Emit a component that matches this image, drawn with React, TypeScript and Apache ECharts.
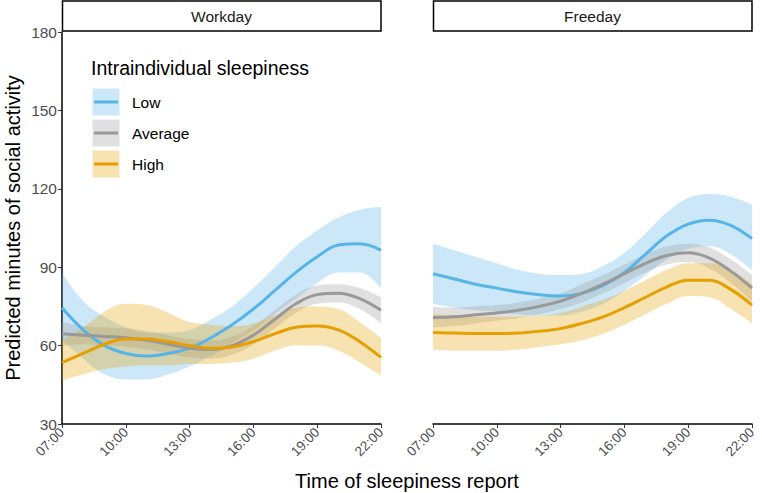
import React, { useEffect, useRef } from "react";
import * as echarts from "echarts";

const hours = ["07:00","08:00","09:00","10:00","11:00","12:00","13:00","14:00","15:00","16:00","17:00","18:00","19:00","20:00","21:00","22:00"];
const panels = ["Workday", "Freeday"];
const levels = ["Low", "Average", "High"];
const lineColors = ["#56B4E9", "#999999", "#E69F00"];

// Workday
const workLowMean = [74.5, 66, 60, 57, 56, 57, 59, 63, 68, 74, 81, 88, 94, 98.5, 99, 96.5];
const workLowLower = [62, 55, 49, 47, 47, 49, 52, 56, 61, 66, 72, 78, 84, 88, 88, 82];
const workLowUpper = [88, 77, 71, 67, 65, 65, 66, 70, 75, 82, 90, 98, 104, 109, 112, 113];
const workAvgMean = [64.5, 64, 63.5, 63, 62, 60.5, 59, 58.5, 60, 64, 70, 76, 79.5, 80, 78, 73.5];
const workAvgLower = [60, 60.5, 60, 59.5, 58.5, 57, 55.5, 55, 56.5, 60.5, 66.5, 72.5, 76, 76.5, 74, 68.5];
const workAvgUpper = [69, 67.5, 67, 66.5, 65.5, 64, 62.5, 62, 63.5, 67.5, 73.5, 79.5, 83, 83.5, 82, 78.5];
const workHighMean = [53.5, 57, 60.5, 62.5, 62.5, 61.5, 60, 59, 59.5, 61.5, 64.5, 67, 67.5, 66, 61.5, 55.5];
const workHighLower = [46.5, 49, 51, 52, 52.5, 52.5, 53, 53, 53.5, 55, 58, 60, 60, 58, 53.5, 48.5];
const workHighUpper = [62, 67, 73, 76, 75.5, 72.5, 69, 68, 67.5, 68.5, 71.5, 74.5, 75, 74, 69, 63];

// Freeday
const freeLowMean = [87.5, 85.5, 83.5, 82, 80.5, 79.5, 79, 80, 83, 88, 95, 102, 106.5, 108, 106, 101];
const freeLowLower = [76, 74.5, 73.5, 73, 72, 71.5, 71.5, 73, 76, 81, 87, 93, 97, 98, 95, 89];
const freeLowUpper = [99, 96.5, 94, 91.5, 89, 87.5, 87, 87.5, 90.5, 95.5, 103, 111, 116.5, 118, 117, 114];
const freeAvgMean = [70.8, 71, 71.8, 72.5, 73.5, 75, 77, 80, 83.5, 87.5, 91.5, 94.5, 95.5, 93.5, 88.5, 82];
const freeAvgLower = [67, 67.5, 68.5, 69.5, 70.5, 72, 74, 76.5, 80, 84, 88, 91, 92, 89.5, 84, 77];
const freeAvgUpper = [75, 74.5, 75, 75.5, 76.5, 78, 80, 83.5, 87, 91, 95, 98, 99, 97.5, 93, 87];
const freeHighMean = [65, 64.8, 64.6, 64.6, 64.8, 65.5, 66.5, 68.5, 71, 74.5, 78.5, 82.5, 85, 85, 81.5, 75.5];
const freeHighLower = [58.5, 58, 58, 58, 58.5, 59.5, 60.5, 62, 64.5, 68, 72, 76, 79, 78.5, 74, 68.5];
const freeHighUpper = [72, 71.5, 71, 71, 71, 71.5, 72.5, 75, 77.5, 81, 85, 89, 91.5, 91.5, 89, 83.5];

const yTicks = [30, 60, 90, 120, 150, 180];

const means = [[workLowMean, workAvgMean, workHighMean], [freeLowMean, freeAvgMean, freeHighMean]];
const lowers = [[workLowLower, workAvgLower, workHighLower], [freeLowLower, freeAvgLower, freeHighLower]];
const uppers = [[workLowUpper, workAvgUpper, workHighUpper], [freeLowUpper, freeAvgUpper, freeHighUpper]];

const FONT = "'Liberation Sans', Arial, Helvetica, sans-serif";
const BAND_ALPHA = 0.3;

function hexA(hex: string, a: number) {
  const r = parseInt(hex.slice(1, 3), 16), g = parseInt(hex.slice(3, 5), 16), b = parseInt(hex.slice(5, 7), 16);
  return `rgba(${r},${g},${b},${a})`;
}

export default function App() {
  const ref = useRef<HTMLDivElement>(null);
  useEffect(() => {
    if (!ref.current) return;
    const chart = echarts.init(ref.current, null, { renderer: "svg" });
    const grids = [
      { left: 62, top: 32, width: 319, height: 392 },
      { left: 433, top: 32, width: 319, height: 392 },
    ];
    const xAxes = panels.map((_, i) => ({
      type: "category",
      gridIndex: i,
      data: hours,
      boundaryGap: false,
      axisLine: { lineStyle: { color: "#000", width: 1.5 } },
      axisTick: { interval: 2, length: 4, lineStyle: { color: "#333", width: 1 } },
      axisLabel: { interval: 2, rotate: 45, color: "#4d4d4d", fontSize: 13.5, fontFamily: FONT, margin: 6 },
      splitLine: { show: false },
    }));
    const yAxes = panels.map((_, i) => ({
      type: "value",
      gridIndex: i,
      min: yTicks[0],
      max: yTicks[yTicks.length - 1],
      interval: 30,
      axisLine: { show: i === 0, lineStyle: { color: "#000", width: 1.5 } },
      axisTick: { show: i === 0, length: 4, lineStyle: { color: "#333", width: 1 } },
      axisLabel: { show: i === 0, color: "#4d4d4d", fontSize: 15.5, fontFamily: FONT, margin: 5 },
      splitLine: { show: false },
    }));
    const series: any[] = [];
    panels.forEach((_, p) => {
      levels.forEach((lv, l) => {
        const stack = `band-${p}-${l}`;
        series.push({
          type: "line", name: `${lv}-lower-${p}`, xAxisIndex: p, yAxisIndex: p, stack,
          data: lowers[p][l], smooth: 0.4, symbol: "none", lineStyle: { opacity: 0, width: 0 }, z: 1, silent: true,
        });
        series.push({
          type: "line", name: `${lv}-band-${p}`, xAxisIndex: p, yAxisIndex: p, stack,
          data: uppers[p][l].map((u, k) => u - lowers[p][l][k]), smooth: 0.4, symbol: "none",
          lineStyle: { opacity: 0, width: 0 }, areaStyle: { color: hexA(lineColors[l], BAND_ALPHA), opacity: 1 }, z: 1, silent: true,
        });
      });
      levels.forEach((lv, l) => {
        series.push({
          type: "line", name: `${lv}-${p}`, xAxisIndex: p, yAxisIndex: p,
          data: means[p][l], smooth: 0.4, symbol: "none",
          lineStyle: { color: lineColors[l], width: 3 }, z: 3, silent: true,
        });
      });
    });
    const graphic: any[] = [];
    panels.forEach((name, i) => {
      const g = grids[i];
      graphic.push({ type: "rect", shape: { x: g.left + 0.5, y: 1, width: g.width - 0.5, height: 30 }, style: { fill: "#fff", stroke: "#000", lineWidth: 1.5 }, z: 10 });
      graphic.push({ type: "text", x: g.left + g.width / 2, y: 16.5, style: { text: name, fontSize: 15.5, fontFamily: FONT, fill: "#1a1a1a", align: "center", verticalAlign: "middle" }, z: 11 });
    });
    graphic.push({ type: "text", x: 91, y: 68, style: { text: "Intraindividual sleepiness", fontSize: 19.5, fontFamily: FONT, fill: "#000", align: "left", verticalAlign: "middle" }, z: 11 });
    levels.forEach((lv, l) => {
      const y0 = 88 + l * 31;
      graphic.push({ type: "rect", shape: { x: 92, y: y0, width: 28, height: 28 }, style: { fill: hexA(lineColors[l], BAND_ALPHA), stroke: "#fff", lineWidth: 1 }, z: 11 });
      graphic.push({ type: "line", shape: { x1: 94, y1: y0 + 14, x2: 118, y2: y0 + 14 }, style: { stroke: lineColors[l], lineWidth: 3 }, z: 12 });
      graphic.push({ type: "text", x: 132, y: y0 + 14, style: { text: lv, fontSize: 15.5, fontFamily: FONT, fill: "#000", align: "left", verticalAlign: "middle" }, z: 12 });
    });
    graphic.push({ type: "text", x: 13, y: 228, rotation: Math.PI / 2, style: { text: "Predicted minutes of social activity", fontSize: 20, fontFamily: FONT, fill: "#000", align: "center", verticalAlign: "middle" }, z: 11 });
    graphic.push({ type: "text", x: 407, y: 481, style: { text: "Time of sleepiness report", fontSize: 20, fontFamily: FONT, fill: "#000", align: "center", verticalAlign: "middle" }, z: 11 });

    chart.setOption({
      animation: false,
      backgroundColor: "#fff",
      grid: grids,
      xAxis: xAxes,
      yAxis: yAxes,
      series,
      graphic,
    });
    return () => chart.dispose();
  }, []);
  return <div ref={ref} style={{ width: 762, height: 493, position: "absolute", left: 0, top: 0 }} />;
}
